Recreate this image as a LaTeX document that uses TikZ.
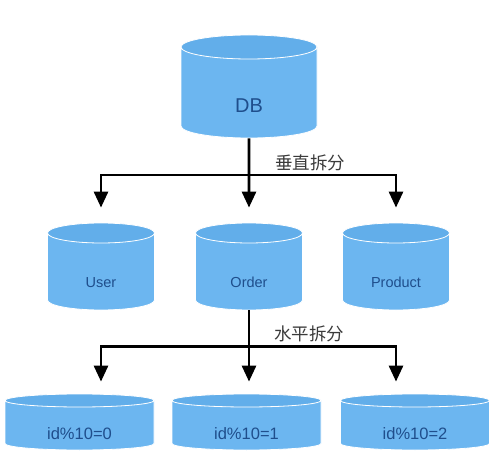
\documentclass[tikz,border=0pt]{standalone}
\usepackage{fontspec}
\setmainfont{Liberation Sans}
\newfontfamily\cjk{Noto Sans CJK SC}
\usetikzlibrary{shapes.geometric, arrows.meta}
\definecolor{dbbody}{HTML}{6CB6F0}
\definecolor{dbtop}{HTML}{62AEEA}
\definecolor{dbtext}{HTML}{1F4E8C}
\definecolor{tagtext}{HTML}{3A3A3A}
\newcommand{\dbname}[2]{\smash{\makebox[20pt]{\raisebox{#1}{#2}}}}
\tikzstyle{db} = [cylinder, shape border rotate=90, draw=white, line width=0.8pt,
  cylinder uses custom fill, cylinder body fill=dbbody, cylinder end fill=dbtop,
  text=dbtext, inner sep=0pt]
\tikzstyle{line} = [draw, line width=2.8pt, -{Triangle[width=14pt, length=16pt]}]
\tikzstyle{tag} = [font=\cjk\fontsize{17.5}{19}\selectfont, text=tagtext, inner sep=0pt]

\begin{document}
\begin{tikzpicture}[x=1pt, y=-1pt]
  \useasboundingbox (0,0) rectangle (496,468);

  \node [db, minimum width=136pt, minimum height=103pt, aspect=1.2, anchor=shape center,
    font=\fontsize{20}{22}\selectfont] (DB) at (249,86.5) {\dbname{-19.4pt}{DB}};

  \node [db, minimum width=107pt, minimum height=87pt, aspect=1.0, anchor=shape center,
    font=\fontsize{14.5}{16}\selectfont] (Order) at (249,266.5) {\dbname{-16.2pt}{Order}};
  \node [db, minimum width=107pt, minimum height=87pt, aspect=1.0,
    font=\fontsize{14.5}{16}\selectfont, left of=Order, node distance=148pt] (User) {\dbname{-16.2pt}{User}};
  \node [db, minimum width=107pt, minimum height=87pt, aspect=1.0,
    font=\fontsize{14.5}{16}\selectfont, right of=Order, node distance=147pt] (Product) {\dbname{-16.2pt}{Product}};

  \node [db, minimum width=149pt, minimum height=56pt, aspect=0.65, anchor=shape center,
    font=\fontsize{16.5}{18}\selectfont] (id1) at (246.5,422) {\dbname{-14pt}{id\%10=1}};
  \node [db, minimum width=149pt, minimum height=56pt, aspect=0.65,
    font=\fontsize{16.5}{18}\selectfont, left of=id1, node distance=167pt] (id0) {\dbname{-14pt}{id\%10=0}};
  \node [db, minimum width=149pt, minimum height=56pt, aspect=0.65,
    font=\fontsize{16.5}{18}\selectfont, right of=id1, node distance=168.5pt] (id2) {\dbname{-14pt}{id\%10=2}};

  \coordinate (vsplit) at (DB.south |- 0,175);
  \coordinate (hsplit) at (Order.south |- 0,346.7);

  \path [line, shorten >=15pt] (DB.south) -- (Order.north);
  \path [line, shorten >=15pt] (vsplit) -| (User.north);
  \path [line, shorten >=15pt] (vsplit) -| (Product.north);

  \path [line, shorten >=12pt] (Order.south) -- (Order.south |- id1.north);
  \path [line, shorten >=12pt] (hsplit) -| (User.south |- id0.north);
  \path [line, shorten >=12pt] (hsplit) -| (Product.south |- id2.north);

  \node [tag] (vtag) at ([xshift=61pt, yshift=12pt]vsplit) {垂直拆分};
  \node [tag] (htag) at ([xshift=60pt, yshift=12.7pt]hsplit) {水平拆分};

\end{tikzpicture}
\end{document}
